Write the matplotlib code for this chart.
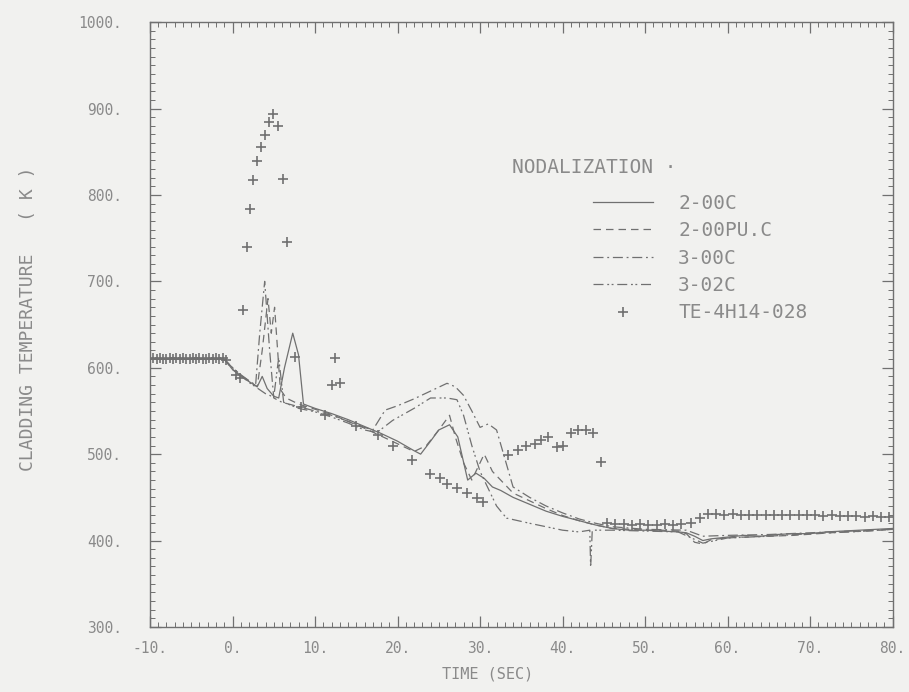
"""Cladding temperature vs time, nodalization study (scanned plotter look)."""
import matplotlib
matplotlib.use("Agg")
import matplotlib.pyplot as plt
from matplotlib.ticker import MultipleLocator, FuncFormatter

INK = "#707070"
TEXT = "#8a8a8a"
PAPER = "#f1f1ef"

# measured data, TE-4H14-028
test_t = [-10.0, -9.6, -9.2, -8.8, -8.4, -8.0, -7.6, -7.2, -6.8, -6.4, -6.0, -5.6,
          -5.2, -4.8, -4.4, -4.0, -3.6, -3.2, -2.8, -2.4, -2.0, -1.6, -1.2, -0.8,
          0.4, 0.9, 1.3, 1.75, 2.1, 2.5, 3.0, 3.4, 3.9, 4.4, 4.9, 5.5, 6.1, 6.6,
          7.6, 8.3, 11.2, 12.0, 12.4, 13.0, 15.0, 17.6, 19.5,
          21.7, 23.9, 25.1, 26.0, 27.2, 28.4, 29.6, 30.4,
          33.4, 34.6, 35.6, 36.6, 37.4, 38.2, 39.3, 40.1, 41.0, 41.9, 42.9, 43.7, 44.7,
          45.4, 46.4, 47.4, 48.4, 49.4, 50.4, 51.4, 52.4, 53.4, 54.4, 55.6,
          56.6, 57.6, 58.6, 59.6, 60.6, 61.6, 62.6, 63.6, 64.6, 65.6, 66.6, 67.6,
          68.6, 69.6, 70.6, 71.6, 72.6, 73.6, 74.6, 75.6, 76.6, 77.6, 78.6, 79.6]
test_T = [610, 611, 610, 611, 610, 610, 611, 610, 611, 610, 611, 610,
          610, 611, 610, 611, 610, 610, 611, 610, 611, 610, 611, 609,
          592, 588, 667, 740, 784, 817, 839, 855, 869, 884, 894, 880, 818, 745,
          612, 555, 545, 580, 611, 582, 533, 522, 510,
          493, 477, 472, 466, 461, 455, 449, 445,
          499, 505, 509, 512, 516, 520, 508, 510, 524, 528, 528, 524, 491,
          420, 419, 419, 418, 419, 418, 418, 419, 418, 419, 420,
          426, 431, 431, 430, 431, 430, 430, 430, 430, 430, 429, 430,
          429, 429, 429, 428, 429, 428, 428, 428, 427, 428, 427, 427]

# 2-00C
t_200c = [-10, -1, 0, 1, 2, 3, 3.6, 4.2, 5, 5.6, 6.3, 7.3, 8.0, 8.6, 10, 12, 14,
          16, 18, 20, 22, 22.8, 24, 25, 26.3, 27.3, 28.5, 29.5, 30.5, 31.5, 32.5,
          34, 36, 38, 40, 42, 44, 46, 48, 50, 52, 54, 55, 56, 57, 58, 60, 62,
          64, 66, 68, 70, 72, 74, 76, 78, 80]
T_200c = [610, 610, 598, 590, 584, 578, 590, 576, 567, 565, 600, 640, 615, 558,
          553, 547, 540, 532, 524, 515, 504, 500, 515, 528, 534, 520, 470, 478,
          472, 462, 458, 450, 442, 434, 428, 423, 418, 414, 412, 412, 411, 410,
          409, 405, 400, 402, 404, 406, 405, 407, 408, 408, 410, 411, 412, 413, 414]

# 2-00PU.C
t_200pu = [-10, -1, 0, 1.5, 3.0, 3.6, 4.3, 4.7, 5.1, 5.8, 6.5, 8, 10, 12, 14, 16,
           18, 20, 22, 23.5, 25, 26.3, 27, 28, 29, 30.5, 31.5, 32.5, 34, 36, 38,
           40, 42, 44, 46, 48, 50, 52, 54, 55, 56, 57, 58, 60, 62, 65, 68, 71,
           74, 77, 80]
T_200pu = [610, 610, 598, 588, 578, 620, 680, 640, 670, 575, 565, 558, 552, 546,
           538, 530, 521, 512, 503, 510, 528, 545, 520, 490, 470, 500, 480, 470,
           455, 446, 437, 429, 423, 418, 414, 413, 412, 412, 411, 408, 398, 396,
           401, 403, 404, 405, 406, 408, 410, 411, 413]

# 3-00C
t_300c = [-10, -1, 0, 1, 2, 2.8, 3.3, 3.9, 4.5, 5.0, 6, 8, 10, 12, 14, 16, 17,
          18.5, 20, 22, 24, 26, 27, 28, 29, 30, 31, 32, 33, 34, 36, 38, 40, 42,
          44, 46, 50, 55, 57, 60, 65, 70, 75, 80]
T_300c = [610, 610, 600, 592, 585, 580, 640, 700, 620, 565, 560, 555, 550, 545,
          538, 531, 528, 551, 556, 564, 573, 582, 578, 568, 550, 531, 535, 528,
          495, 462, 450, 440, 432, 425, 420, 416, 413, 412, 405, 406, 407, 409,
          411, 413]

# 3-02C
t_302c = [-10, -1, 0, 2, 4, 5.0, 5.6, 6.2, 8, 10, 12, 14, 16, 17.5, 19.4, 22,
          24, 26, 27.2, 28, 29, 30, 31, 32, 33.2, 36, 38, 40, 42, 43.3, 43.4,
          43.6, 46, 50, 54, 57, 60, 65, 70, 75, 80]
T_302c = [610, 610, 600, 583, 570, 566, 612, 560, 553, 549, 543, 536, 528, 525,
          539, 553, 565, 565, 563, 545, 510, 480, 460, 440, 426, 420, 416, 412,
          410, 412, 369, 412, 412, 411, 410, 397, 403, 405, 408, 410, 413]

x_ticks = [-10, 0, 10, 20, 30, 40, 50, 60, 70, 80]
y_ticks = [300, 400, 500, 600, 700, 800, 900, 1000]


def main() -> None:
    plt.rcParams["font.family"] = "DejaVu Sans Mono"
    fig = plt.figure(figsize=(9.09, 6.92), dpi=100, facecolor=PAPER)
    ax = fig.add_axes([0.165, 0.094, 0.817, 0.874], facecolor=PAPER)

    l1, = ax.plot(t_200c, T_200c, color=INK, lw=0.9, ls="-")
    l2, = ax.plot(t_200pu, T_200pu, color=INK, lw=0.9, ls=(0, (6, 4)))
    l3, = ax.plot(t_300c, T_300c, color=INK, lw=0.9, ls=(0, (8, 3, 1.5, 3)))
    l4, = ax.plot(t_302c, T_302c, color=INK, lw=0.9, ls=(0, (8, 3, 1.5, 2, 1.5, 3)))
    l5, = ax.plot(test_t, test_T, ls="none", marker="+", ms=7, mew=1.2, color=INK)

    ax.set_xlim(x_ticks[0], x_ticks[-1])
    ax.set_ylim(y_ticks[0], y_ticks[-1])
    ax.set_xticks(x_ticks)
    ax.set_yticks(y_ticks)
    ax.xaxis.set_minor_locator(MultipleLocator(1))
    ax.yaxis.set_minor_locator(MultipleLocator(10))
    fmt = FuncFormatter(lambda v, _: f"{v:.0f}.")
    ax.xaxis.set_major_formatter(fmt)
    ax.yaxis.set_major_formatter(fmt)
    ax.tick_params(which="both", direction="in", top=True, right=True,
                   color=INK, labelcolor=TEXT, labelsize=10.5)
    ax.tick_params(which="major", length=8, width=0.9)
    ax.tick_params(which="minor", length=3.5, width=0.7)
    ax.tick_params(axis="y", pad=20)
    ax.tick_params(axis="x", pad=10)
    for s in ax.spines.values():
        s.set_color(INK)
        s.set_linewidth(1.0)

    ax.set_xlabel("TIME (SEC)", color=TEXT, fontsize=11)
    ax.set_ylabel("CLADDING TEMPERATURE   ( K )", color=TEXT, fontsize=13)
    ax.xaxis.set_label_coords(0.454, -0.066)
    ax.yaxis.set_label_coords(-0.152, 0.51)

    ax.text(0.487, 0.759, "NODALIZATION \u00b7", transform=ax.transAxes,
            color=TEXT, fontsize=14, va="center", ha="left")
    leg = ax.legend([l1, l2, l3, l4, l5],
                    ["2-00C", "2-00PU.C", "3-00C", "3-02C", "TE-4H14-028"],
                    loc="upper left", bbox_to_anchor=(0.596, 0.716),
                    frameon=False, fontsize=14, handlelength=3.1,
                    handletextpad=1.3, labelspacing=0.43, borderpad=0,
                    borderaxespad=0)
    for txt in leg.get_texts():
        txt.set_color(TEXT)

    fig.savefig("out.png", dpi=100, facecolor=PAPER)


if __name__ == "__main__":
    main()
